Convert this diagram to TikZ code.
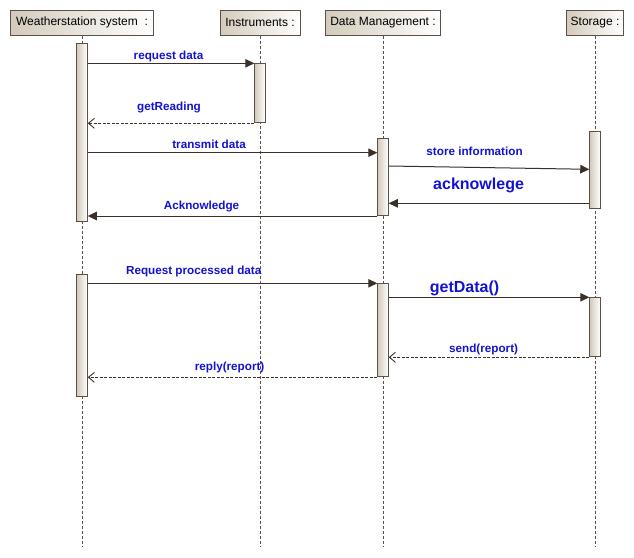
\documentclass[tikz,border=0pt]{standalone}
\usepackage{fontspec}
\setmainfont{Liberation Sans}
\usetikzlibrary{arrows.meta}
\definecolor{edge}{HTML}{5C5148}
\definecolor{wire}{HTML}{3A3028}
\definecolor{beige}{HTML}{D3CABB}
\definecolor{msgblue}{RGB}{18,18,210}
\tikzset{lifehead/.style={draw=edge, line width=1pt, left color=beige, right color=white, minimum height=25pt, inner sep=0pt, font=\fontsize{12}{14}\selectfont},
lifeline/.style={draw=edge, line width=0.9pt, dash pattern=on 3pt off 2pt},
actbar/.style={draw=edge, line width=1pt, left color=beige, right color=white, minimum width=10.5pt, inner sep=0pt},
call/.style={draw=wire, line width=1pt, -{Triangle[length=9pt,width=8.5pt]}},
reply/.style={draw=wire, line width=0.9pt, dash pattern=on 3pt off 1.5pt, -{Straight Barb[length=6pt,width=10pt]}},
msg/.style={text=msgblue, inner sep=0pt, font=\bfseries\fontsize{11.7}{13}\selectfont},
bigmsg/.style={msg, font=\bfseries\fontsize{16}{18}\selectfont}}

\begin{document}
\begin{tikzpicture}[x=1pt,y=-1pt]
    \useasboundingbox (0,0) rectangle (634,557);

    \node[lifehead, minimum width=143pt] (ws) at (82,22.5) {Weatherstation system\ \ :};
    \node[lifehead, minimum width=80pt] (inst) at (260,22.5) {Instruments :};
    \node[lifehead, minimum width=115pt] (dm) at (383,22.5) {Data Management :};
    \node[lifehead, minimum width=57pt] (st) at (595,22.5) {Storage :};

    \coordinate (bottom) at (0,547);
    \foreach \i in {ws,inst,dm,st}
    \draw[lifeline] (\i.south) -- (\i.south |- bottom);

    % activation bars
    \foreach \name/\x/\top/\bot in {wsbar1/82/43.3/221, wsbar2/82/274.3/396.5,
        inbar/260/63.3/122.3, dmbar1/383/138.3/215.3, dmbar2/383/283.3/376.7,
        stbar1/595/131.7/208.3, stbar2/595/297.3/356.7}
    \node[actbar, minimum height={(\bot-\top)*1pt}] (\name) at (\x,{(\top+\bot)/2}) {};

    \coordinate (y1) at (0,63.3);
    \coordinate (y2) at (0,123.3);
    \coordinate (y3) at (0,152.7);
    \coordinate (y4) at (0,166);
    \coordinate (y5) at (0,169.3);
    \coordinate (y6) at (0,203.3);
    \coordinate (y7) at (0,216);
    \coordinate (y8) at (0,283.3);
    \coordinate (y9) at (0,297.3);
    \coordinate (y10) at (0,357.3);
    \coordinate (y11) at (0,377.3);

    \draw[call] (wsbar1.east |- y1) -- node[msg, pos=.485, yshift=6.6pt] {request data} (inbar.west |- y1);
    \draw[reply] (inbar.west |- y2) -- node[msg, pos=.512, yshift=16pt] {getReading} (wsbar1.east |- y2);
    \draw[call] (wsbar1.east |- y3) -- node[msg, pos=.419, yshift=8.7pt] {transmit data} (dmbar1.west |- y3);
    \draw[call] (dmbar1.east |- y4) -- node[msg, pos=.428, yshift=16pt] {store information} (stbar1.west |- y5);
    \draw[call] (stbar1.west |- y6) -- node[bigmsg, pos=.552, yshift=18pt] {acknowlege} (dmbar1.east |- y6);
    \draw[call] (dmbar1.west |- y7) -- node[msg, pos=.607, yshift=9.3pt] {Acknowledge} (wsbar1.east |- y7);

    \draw[call] (wsbar2.east |- y8) -- node[msg, pos=.366, yshift=11.6pt] {Request processed data} (dmbar2.west |- y8);
    \draw[call] (dmbar2.east |- y9) -- node[bigmsg, pos=.378, yshift=9pt] {getData()} (stbar2.west |- y9);
    \draw[reply] (stbar2.west |- y10) -- node[msg, pos=.527, yshift=8.3pt] {send(report)} (dmbar2.east |- y10);
    \draw[reply] (dmbar2.west |- y11) -- node[msg, pos=.51, yshift=10pt] {reply(report)} (wsbar2.east |- y11);

  \end{tikzpicture}
\end{document}
